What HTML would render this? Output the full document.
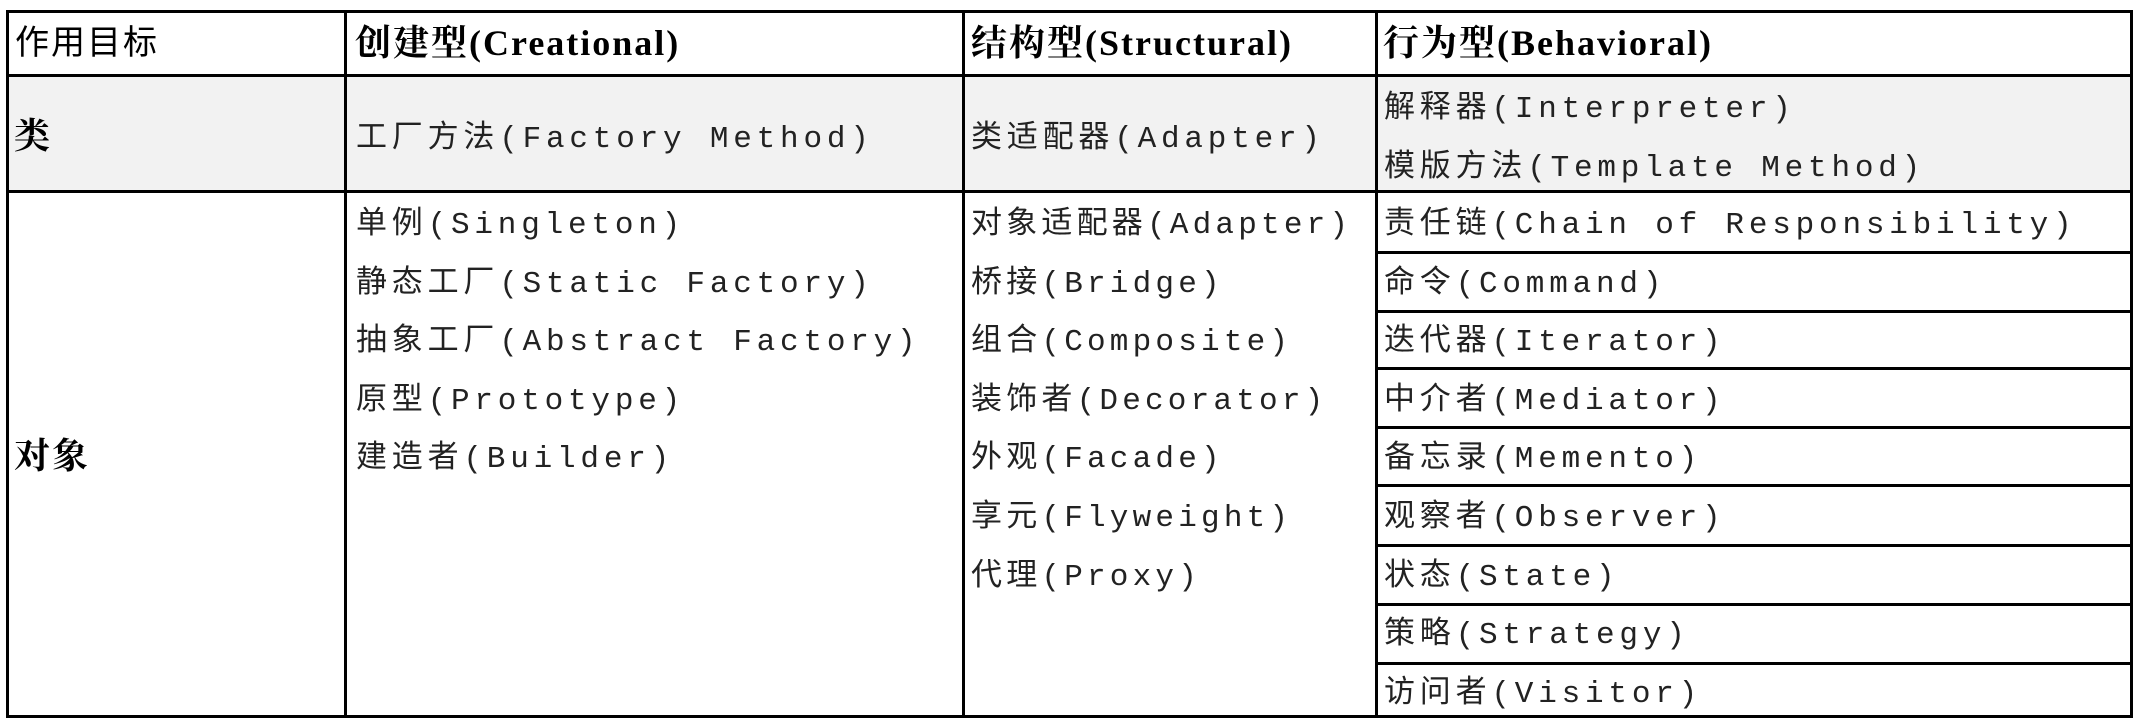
<!DOCTYPE html>
<html><head><meta charset="utf-8"><style>
html,body{margin:0;padding:0;background:#fff;width:2138px;height:728px;overflow:hidden;position:relative}
.h{position:absolute;background:#000;height:3px}
.v{position:absolute;background:#000;width:3px}
.t{position:absolute;white-space:nowrap;font-family:"Liberation Mono","Courier New","DejaVu Sans Mono","Noto Sans CJK SC",monospace;font-size:31px;letter-spacing:4.8px;color:#222;line-height:58.6px}
.hd{position:absolute;white-space:nowrap;font-family:"Liberation Serif","Noto Serif CJK SC",serif;font-size:36px;font-weight:bold;letter-spacing:2px;line-height:64px;top:11px}
</style></head><body>
<div style="position:absolute;left:7px;top:75px;width:2124px;height:116px;background:#f2f2f2"></div>
<div class="h" style="left:6px;top:10px;width:2127px"></div>
<div class="h" style="left:6px;top:74px;width:2127px"></div>
<div class="h" style="left:6px;top:190px;width:2127px"></div>
<div class="h" style="left:6px;top:715px;width:2127px"></div>
<div class="v" style="left:6px;top:10px;height:708px"></div>
<div class="v" style="left:344px;top:10px;height:708px"></div>
<div class="v" style="left:962px;top:10px;height:708px"></div>
<div class="v" style="left:1375px;top:10px;height:708px"></div>
<div class="v" style="left:2130px;top:10px;height:708px"></div>
<div class="h" style="left:1375px;top:251px;width:758px"></div>
<div class="h" style="left:1375px;top:310px;width:758px"></div>
<div class="h" style="left:1375px;top:367px;width:758px"></div>
<div class="h" style="left:1375px;top:426px;width:758px"></div>
<div class="h" style="left:1375px;top:484px;width:758px"></div>
<div class="h" style="left:1375px;top:544px;width:758px"></div>
<div class="h" style="left:1375px;top:603px;width:758px"></div>
<div class="h" style="left:1375px;top:662px;width:758px"></div>

<div class="hd" style="left:15px;font-weight:normal;font-family:'Liberation Sans','Noto Sans CJK SC',sans-serif;font-size:34px">作用目标</div>
<div class="hd" style="left:355px">创建型(Creational)</div>
<div class="hd" style="left:971px">结构型(Structural)</div>
<div class="hd" style="left:1383px">行为型(Behavioral)</div>
<div class="hd" style="left:14px;top:104px">类</div>
<div class="hd" style="left:14px;top:424px">对象</div>

<div class="t" style="left:356px;top:111px">工厂方法(Factory Method)</div>
<div class="t" style="left:971px;top:111px">类适配器(Adapter)</div>
<div class="t" style="left:1384px;top:81px">解释器(Interpreter)<br>模版方法(Template Method)</div>

<div class="t" style="left:356px;top:197px">单例(Singleton)<br>静态工厂(Static Factory)<br>抽象工厂(Abstract Factory)<br>原型(Prototype)<br>建造者(Builder)</div>
<div class="t" style="left:971px;top:197px;letter-spacing:4.2px">对象适配器(Adapter)<br>桥接(Bridge)<br>组合(Composite)<br>装饰者(Decorator)<br>外观(Facade)<br>享元(Flyweight)<br>代理(Proxy)</div>
<div class="t" style="left:1384px;top:197px">责任链(Chain of Responsibility)<br>命令(Command)<br>迭代器(Iterator)<br>中介者(Mediator)<br>备忘录(Memento)<br>观察者(Observer)<br>状态(State)<br>策略(Strategy)<br>访问者(Visitor)</div>
</body></html>
